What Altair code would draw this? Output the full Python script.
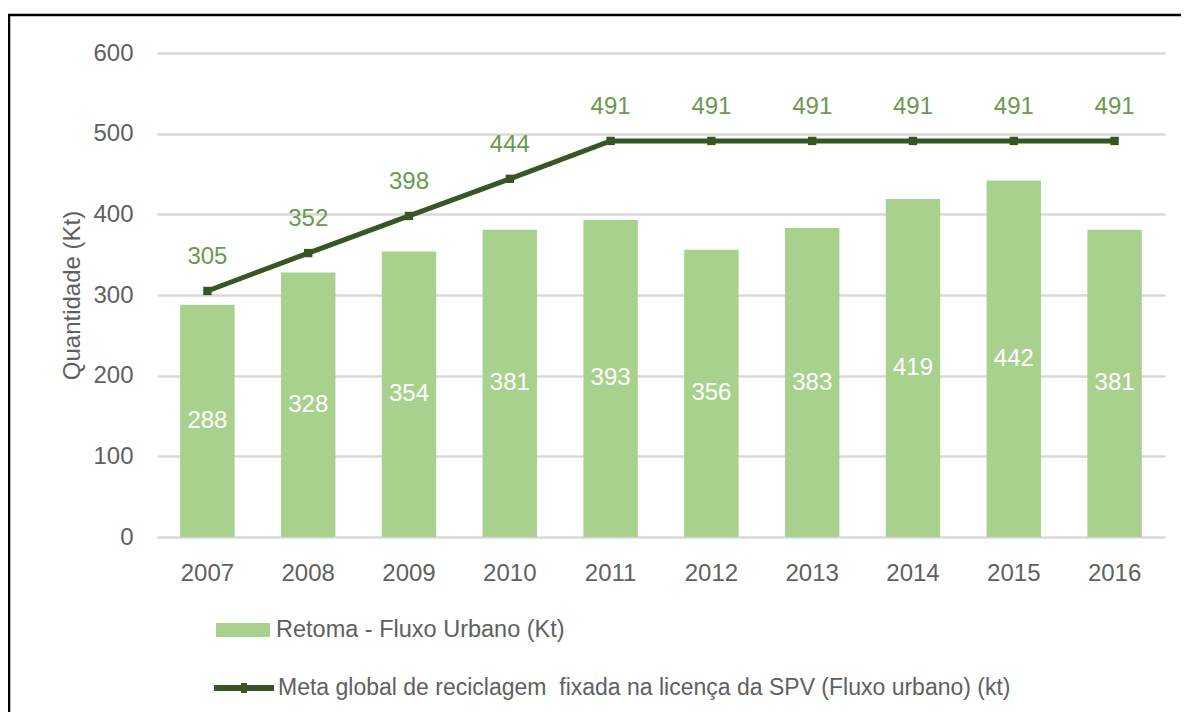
import altair as alt
import pandas as pd

years = ["2007", "2008", "2009", "2010", "2011", "2012", "2013", "2014", "2015", "2016"]
retoma = [288, 328, 354, 381, 393, 356, 383, 419, 442, 381]
meta = [305, 352, 398, 444, 491, 491, 491, 491, 491, 491]
y_ticks = [0, 100, 200, 300, 400, 500, 600]
bar_name = "Retoma - Fluxo Urbano (Kt)"
line_name = "Meta global de reciclagem\u00a0 fixada na licença da SPV (Fluxo urbano) (kt)"
y_title = "Quantidade (Kt)"

df = pd.DataFrame({"ano": years, "retoma": retoma, "meta": meta,
                   "s_bar": bar_name, "s_line": line_name})

W, H = 1008, 484
PL, PT, PR, PB = 149, 45, 16, 175
FONT = "Liberation Sans"
GRAY = "#606060"
BAR = "#A9D18E"
LINE = "#375623"
LBL = "#6b9a4f"

x_enc = alt.X("ano:N", sort=years,
              scale=alt.Scale(paddingInner=0.46, paddingOuter=0.23),
              axis=alt.Axis(title=None, labelAngle=0, labelFontSize=24, labelColor=GRAY,
                            labelFont=FONT, labelPadding=24, ticks=False, domain=False,
                            grid=False))
y_scale = alt.Scale(domain=[0, 600], nice=False)
y_axis = alt.Axis(title=y_title, values=y_ticks, titleFontSize=24, titleFont=FONT,
                  titleFontWeight="normal", titleColor=GRAY, titlePadding=8,
                  labelFontSize=24, labelFont=FONT, labelColor=GRAY, labelPadding=24,
                  ticks=False, domain=False, gridColor="#d9d9d9", gridWidth=2.5)

base = alt.Chart(df)

bars = base.mark_bar().encode(
    x=x_enc,
    y=alt.Y("retoma:Q", scale=y_scale, axis=y_axis),
    fill=alt.Fill("s_bar:N", scale=alt.Scale(range=[BAR]),
                  legend=alt.Legend(title=None, orient="none", legendX=59, legendY=550,
                                    symbolType="M-1,-0.26H1V0.26H-1Z", symbolSize=2916,
                                    symbolStrokeWidth=0, labelFontSize=23.5, labelFont=FONT,
                                    labelColor=GRAY, labelOffset=6, labelLimit=0, padding=0)),
)

bar_text = base.transform_calculate(half="datum.retoma / 2").mark_text(
    color="white", fontSize=24, font=FONT
).encode(
    x=x_enc,
    y=alt.Y("half:Q", scale=y_scale, axis=y_axis),
    text="retoma:Q",
)

line = base.mark_line(strokeWidth=5).encode(
    x=x_enc,
    y=alt.Y("meta:Q", scale=y_scale, axis=y_axis),
    stroke=alt.Stroke("s_line:N", scale=alt.Scale(range=[LINE]),
                      legend=alt.Legend(title=None, orient="none", legendX=54, legendY=602,
                                        symbolType="M-1,0H1M0,-0.17V0.17", symbolSize=3600,
                                        symbolStrokeWidth=6, labelFontSize=23,
                                        labelFont=FONT, labelColor=GRAY, labelOffset=1,
                                        labelLimit=0, padding=0)),
)

points = base.mark_point(shape="square", filled=True, size=70, color=LINE, opacity=1).encode(
    x=x_enc,
    y=alt.Y("meta:Q", scale=y_scale, axis=y_axis),
)

line_text = base.mark_text(dy=-34, color=LBL, fontSize=24, font=FONT).encode(
    x=x_enc,
    y=alt.Y("meta:Q", scale=y_scale, axis=y_axis),
    text="meta:Q",
)

frame_df = pd.DataFrame({"k": [0]})
frame_top = alt.Chart(frame_df).mark_rule(color="black", strokeWidth=2.5).encode(
    x=alt.value(-149), x2=alt.value(W + PR + 5), y=alt.value(-38))
frame_left = alt.Chart(frame_df).mark_rule(color="black", strokeWidth=2.5).encode(
    x=alt.value(-148), y=alt.value(-39), y2=alt.value(H + PB + 5))

chart = alt.layer(bars, bar_text, line, points, line_text, frame_top, frame_left).properties(
    width=W, height=H,
    autosize=alt.AutoSizeParams(type="none"),
    padding={"left": PL, "top": PT, "right": PR, "bottom": PB},
    background="white",
).configure_view(stroke=None)

chart.save("out.html", embed_options={"renderer": "svg", "actions": False})
